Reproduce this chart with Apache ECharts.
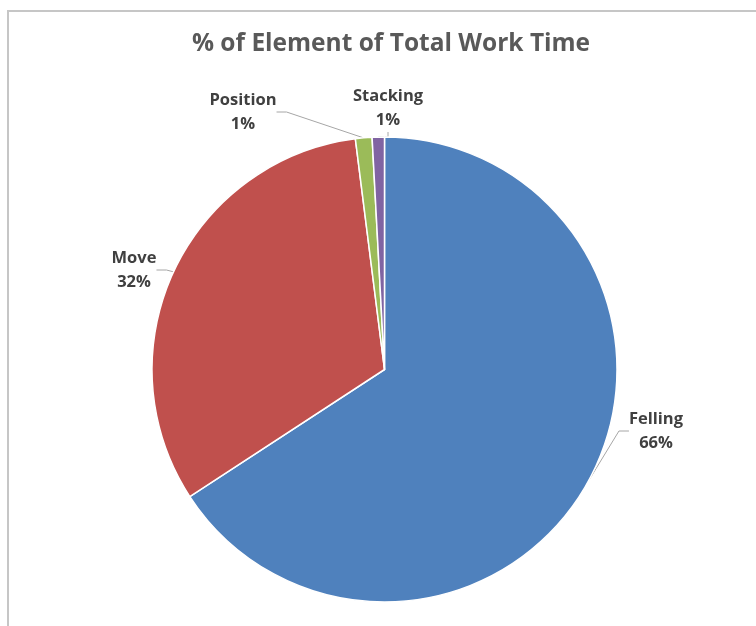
<!DOCTYPE html>
<html><head><meta charset="utf-8">
<script src="https://cdn.jsdelivr.net/npm/echarts@6/dist/echarts.min.js"></script>
<style>
html,body{margin:0;padding:0;background:#fff;}
#frame{position:absolute;left:7px;top:10px;width:760px;height:630px;border-left:2px solid #c6c6c6;border-top:2px solid #c6c6c6;}
#chart{position:absolute;left:0;top:0;width:756px;height:626px;}
</style></head>
<body>
<div id="frame"></div>
<div id="chart"></div>
<script>
const titleText = '% of Element of Total Work Time';
const categories = ['Felling', 'Move', 'Position', 'Stacking'];
const values = [65.8, 32.2, 1.15, 0.85];
const labelsPct = ['66%', '32%', '1%', '1%'];
const colors = ['#4F81BD', '#C0504D', '#9BBB59', '#8064A2'];

const labelPos = [
  {x: 656, y: 431},
  {x: 134, y: 270},
  {x: 243, y: 112},
  {x: 388, y: 108}
];

const chart = echarts.init(document.getElementById('chart'));
chart.setOption({
  animation: false,
  title: {
    text: titleText, left: 386, top: 27, textAlign: 'center',
    textStyle: {fontFamily: 'Open Sans', fontWeight: 'bold', fontSize: 24.5, color: '#595959'}
  },
  series: [{
    type: 'pie',
    center: [384.5, 369.5],
    radius: 232.5,
    startAngle: 90,
    clockwise: true,
    data: categories.map((c, i) => ({name: c, value: values[i], itemStyle: {color: colors[i]}})),
    itemStyle: {borderColor: '#fff', borderWidth: 1.5},
    label: {
      show: true,
      formatter: p => p.name + '\n' + labelsPct[p.dataIndex],
      fontFamily: 'Open Sans', fontWeight: 'bold', fontSize: 16.5, color: '#404040',
      lineHeight: 24, align: 'center'
    },
    labelLine: {show: true, length: 10, length2: 10, lineStyle: {color: '#a6a6a6', width: 1}},
    labelLayout: p => ({x: labelPos[p.dataIndex].x, y: labelPos[p.dataIndex].y, align: 'center', verticalAlign: 'middle'})
  }]
});
</script>
</body></html>
